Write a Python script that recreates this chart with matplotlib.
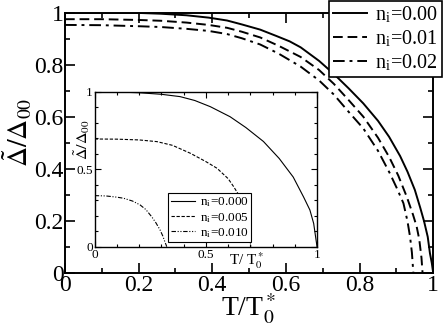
import matplotlib
matplotlib.use("Agg")
import matplotlib.pyplot as plt
from matplotlib.ticker import MultipleLocator, FuncFormatter

plt.rcParams['font.family'] = ['Liberation Serif', 'DejaVu Serif']
plt.rcParams['mathtext.fontset'] = 'stix'

# main panel: gap vs temperature
t_000 = [0, 0.1, 0.2, 0.26, 0.33, 0.39, 0.44, 0.48, 0.53, 0.575, 0.61, 0.64, 0.69, 0.73, 0.77, 0.81,
         0.85, 0.88, 0.91, 0.93, 0.95, 0.965, 0.975, 0.985, 0.991, 0.996, 1.0]
d_000 = [1.0, 1.0, 0.999, 0.996, 0.99, 0.981, 0.97, 0.955, 0.935, 0.91, 0.89, 0.867, 0.815, 0.765, 0.71, 0.652,
         0.585, 0.524, 0.45, 0.39, 0.32, 0.25, 0.2, 0.14, 0.077, 0.04, 0.0]

t_001 = [0, 0.1, 0.2, 0.26, 0.33, 0.39, 0.44, 0.48, 0.53, 0.58, 0.64, 0.69, 0.73, 0.77, 0.81, 0.85,
         0.88, 0.905, 0.928, 0.945, 0.955, 0.962, 0.968, 0.971]
d_001 = [0.975, 0.975, 0.972, 0.969, 0.962, 0.953, 0.942, 0.927, 0.905, 0.873, 0.83, 0.78, 0.727, 0.665, 0.601, 0.52,
         0.447, 0.375, 0.294, 0.225, 0.179, 0.13, 0.06, 0.0]

t_002 = [0, 0.1, 0.2, 0.26, 0.33, 0.39, 0.44, 0.48, 0.53, 0.58, 0.64, 0.69, 0.73, 0.77, 0.81, 0.85,
         0.882, 0.9, 0.919, 0.93, 0.937, 0.942, 0.946]
d_002 = [0.953, 0.952, 0.948, 0.945, 0.938, 0.93, 0.918, 0.902, 0.878, 0.843, 0.793, 0.74, 0.686, 0.62, 0.556, 0.47,
         0.384, 0.33, 0.269, 0.2, 0.14, 0.08, 0.0]

# inset: smaller concentrations
ti_0000 = [0, 0.1, 0.2, 0.3, 0.384, 0.45, 0.52, 0.609, 0.68, 0.759, 0.83, 0.893, 0.94, 0.968, 0.985, 1.0]
di_0000 = [1.0, 1.0, 0.995, 0.985, 0.97, 0.945, 0.905, 0.84, 0.77, 0.68, 0.57, 0.45, 0.32, 0.237, 0.15, 0.0]

ti_0005 = [0, 0.1, 0.2, 0.28, 0.35, 0.43, 0.5, 0.55, 0.6, 0.625, 0.65, 0.668, 0.68, 0.691, 0.697, 0.702]
di_0005 = [0.696, 0.695, 0.69, 0.679, 0.655, 0.604, 0.55, 0.507, 0.44, 0.388, 0.33, 0.259, 0.2, 0.13, 0.08, 0.0]

ti_0010 = [0, 0.05, 0.1, 0.13, 0.17, 0.204, 0.23, 0.256, 0.275, 0.294, 0.306, 0.316, 0.321, 0.324]
di_0010 = [0.33, 0.328, 0.32, 0.313, 0.295, 0.27, 0.24, 0.194, 0.155, 0.108, 0.07, 0.03, 0.012, 0.0]

labels_main = [r"n$_\mathregular{i}$=0.00", r"n$_\mathregular{i}$=0.01", r"n$_\mathregular{i}$=0.02"]
labels_inset = [r"n$_\mathregular{i}$=0.000", r"n$_\mathregular{i}$=0.005", r"n$_\mathregular{i}$=0.010"]

fmt = FuncFormatter(lambda v, p: "%g" % round(v, 2))

fig = plt.figure(figsize=(4.43, 3.25), dpi=100)
ax = fig.add_axes([0.1467, 0.159, 0.8313, 0.802])

l1, = ax.plot(t_000, d_000, color="black", lw=1.4, ls="-")
l2, = ax.plot(t_001, d_001, color="black", lw=1.4, ls=(0, (5, 2.5)))
l3, = ax.plot(t_002, d_002, color="black", lw=1.4, ls=(0, (6, 2.5, 1.5, 2.5)))

ax.set_xlim(0, 1)
ax.set_ylim(0, 1)
ax.xaxis.set_major_locator(MultipleLocator(0.2))
ax.xaxis.set_minor_locator(MultipleLocator(0.1))
ax.yaxis.set_major_locator(MultipleLocator(0.2))
ax.yaxis.set_minor_locator(MultipleLocator(0.1))
ax.xaxis.set_major_formatter(fmt)
ax.yaxis.set_major_formatter(fmt)
ax.tick_params(which="both", direction="in", top=True, right=True, labelsize=17, width=1.2)
ax.tick_params(which="major", length=7, pad=1)
ax.tick_params(which="minor", length=3.5)
for s in ax.spines.values():
    s.set_linewidth(1.4)
ax.set_xlabel(r"T/T$_0^*$", fontsize=20, labelpad=-3)
ax.set_ylabel(r"$\tilde{\Delta}/\Delta_{00}$", fontsize=20)
ax.yaxis.set_label_coords(-0.083, 0.54)

leg = fig.legend([l1, l2, l3], labels_main,
                 loc="upper right", bbox_to_anchor=(0.998, 0.998), fontsize=14.5, frameon=True, fancybox=False,
                 framealpha=1, handlelength=1.7, borderpad=0.2, labelspacing=0.15, handletextpad=0.4,
                 borderaxespad=0)
leg.get_frame().set_edgecolor("black")
leg.get_frame().set_linewidth(1.2)

# inset
ins = fig.add_axes([0.2138, 0.241, 0.5018, 0.476])
i1, = ins.plot(ti_0000, di_0000, color="black", lw=0.8, ls="-")
i2, = ins.plot(ti_0005, di_0005, color="black", lw=0.8, ls=(0, (3, 1.5)))
i3, = ins.plot(ti_0010, di_0010, color="black", lw=0.8, ls=(0, (4, 1.5, 1, 1.5, 1, 1.5)))
ins.set_xlim(0, 1)
ins.set_ylim(0, 1)
ins.xaxis.set_major_locator(MultipleLocator(0.5))
ins.xaxis.set_minor_locator(MultipleLocator(0.1))
ins.yaxis.set_major_locator(MultipleLocator(0.5))
ins.yaxis.set_minor_locator(MultipleLocator(0.1))
ins.xaxis.set_major_formatter(fmt)
ins.yaxis.set_major_formatter(fmt)
ins.tick_params(which="both", direction="in", top=True, right=True, labelsize=9.5, width=0.8, pad=1.5)
ins.tick_params(which="major", length=4)
ins.tick_params(which="minor", length=2)
for s in ins.spines.values():
    s.set_linewidth(1.0)
ins.text(0.685, -0.025, r"T/ T$_0^*$", transform=ins.transAxes, fontsize=11, ha="center", va="top")
ins.set_ylabel(r"$\tilde{\Delta}/\Delta_{00}$", fontsize=11.5)
ins.yaxis.set_label_coords(-0.012, 0.69)

ileg = ins.legend([i1, i2, i3], labels_inset,
                  loc="lower left", bbox_to_anchor=(0.331, 0.028), fontsize=9.5, frameon=True, fancybox=False,
                  framealpha=1, handlelength=1.8, borderpad=0.2, labelspacing=0.1, handletextpad=0.4,
                  borderaxespad=0)
ileg.get_frame().set_edgecolor("black")
ileg.get_frame().set_linewidth(0.8)

fig.savefig("out.png", dpi=100)
